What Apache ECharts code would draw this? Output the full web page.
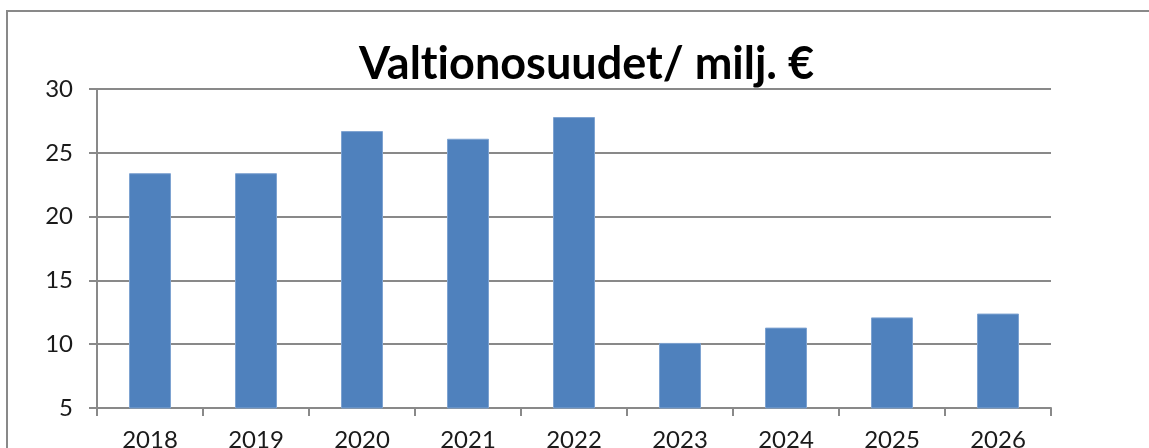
<!DOCTYPE html>
<html>
<head>
<meta charset="utf-8">
<script src="https://cdn.jsdelivr.net/npm/echarts@6/dist/echarts.min.js"></script>
<style>
  html, body { margin: 0; padding: 0; background: #fff; }
  #chart { width: 1149px; height: 448px; }
</style>
</head>
<body>
<div id="chart"></div>
<script>
const years = ['2018', '2019', '2020', '2021', '2022', '2023', '2024', '2025', '2026']
const valtionosuudet = [23.4, 23.4, 26.7, 26.1, 27.8, 10.1, 11.3, 12.1, 12.4]
const yTicks = { min: 5, max: 30, step: 5 }

const gray = '#898989'
const font = 'Lato, "Open Sans", sans-serif'

const chart = echarts.init(document.getElementById('chart'))

chart.setOption({
  animation: false,
  title: {
    // zero-width non-joiner keeps Lato from drawing the "ti" ligature
    text: 'Valt\u200Cionosuudet/ milj. €',
    left: 354,
    top: 37,
    textStyle: { fontFamily: font, fontSize: 45, fontWeight: 'bold', color: '#000' },
  },
  // chart area frame (cut off at the right and bottom)
  graphic: [{
    type: 'rect',
    shape: { x: 7, y: 11, width: 1200, height: 500 },
    style: { fill: 'none', stroke: gray, lineWidth: 2 },
    silent: true,
  }],
  // labels below the axis run off the bottom edge, as in the source image
  grid: { left: 97, right: 98, top: 89, bottom: 40, containLabel: false, outerBoundsMode: 'none' },
  xAxis: {
    type: 'category',
    data: years,
    axisLine: { lineStyle: { color: gray, width: 2 } },
    axisTick: { show: true, length: 8, lineStyle: { color: gray, width: 2 } },
    axisLabel: { color: '#1a1a1a', fontFamily: font, fontSize: 24, margin: 20 },
  },
  yAxis: {
    type: 'value',
    min: yTicks.min,
    max: yTicks.max,
    interval: yTicks.step,
    axisLine: { show: true, lineStyle: { color: gray, width: 2 } },
    axisTick: { show: true, length: 8, lineStyle: { color: gray, width: 2 } },
    axisLabel: { color: '#1a1a1a', fontFamily: font, fontSize: 24, margin: 24 },
    splitLine: { lineStyle: { color: gray, width: 2 } },
  },
  series: [{
    type: 'bar',
    data: valtionosuudet,
    barWidth: 42,
    itemStyle: { color: '#4f81bd', borderColor: '#7ea3d1', borderWidth: 1 },
  }],
})
</script>
</body>
</html>
